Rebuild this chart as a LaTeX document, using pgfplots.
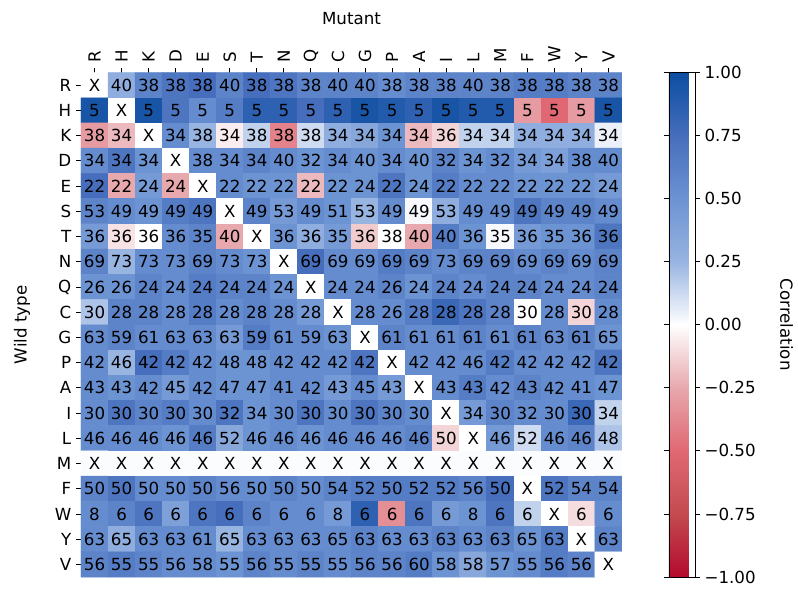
\documentclass[border=0pt]{standalone}
\usepackage{fontspec}
\setmainfont{DejaVu Sans}
\usepackage{pgfplots}
\usepackage{pgfplotstable}
\pgfplotsset{compat=1.18}
\newcommand{\tw}{\fontsize{12pt}{14pt}\selectfont}

\pgfplotstableread{
x y c lab
0 0 0 X
1 0 0.3 40
2 0 0.6 38
3 0 0.7 38
4 0 0.75 38
5 0 0.6 40
6 0 0.75 38
7 0 0.7 38
8 0 0.6 38
9 0 0.6 40
10 0 0.6 40
11 0 0.55 38
12 0 0.6 38
13 0 0.6 38
14 0 0.6 40
15 0 0.6 38
16 0 0.65 38
17 0 0.65 38
18 0 0.6 38
19 0 0.6 38
0 1 0.95 5
1 1 0 X
2 1 0.95 5
3 1 0.7 5
4 1 0.55 5
5 1 0.65 5
6 1 0.85 5
7 1 0.85 5
8 1 0.75 5
9 1 0.85 5
10 1 0.95 5
11 1 0.9 5
12 1 0.85 5
13 1 0.95 5
14 1 0.9 5
15 1 0.9 5
16 1 -0.3 5
17 1 -0.5 5
18 1 -0.3 5
19 1 0.95 5
0 2 -0.3 38
1 2 -0.2 34
2 2 0 X
3 2 0.55 34
4 2 0.25 38
5 2 -0.05 34
6 2 0.15 38
7 2 -0.4 38
8 2 0.12 38
9 2 0.3 34
10 2 0.35 34
11 2 0.5 34
12 2 -0.2 34
13 2 -0.12 36
14 2 0.15 34
15 2 0.15 34
16 2 0.3 34
17 2 0.3 34
18 2 0.3 34
19 2 0.05 34
0 3 0.55 34
1 3 0.7 34
2 3 0.5 34
3 3 0 X
4 3 0.55 38
5 3 0.55 34
6 3 0.6 34
7 3 0.55 40
8 3 0.5 32
9 3 0.55 34
10 3 0.5 40
11 3 0.55 34
12 3 0.5 40
13 3 0.6 32
14 3 0.5 34
15 3 0.55 32
16 3 0.45 34
17 3 0.4 34
18 3 0.55 38
19 3 0.55 40
0 4 0.75 22
1 4 -0.25 22
2 4 0.45 24
3 4 -0.25 24
4 4 0 X
5 4 0.55 22
6 4 0.5 22
7 4 0.5 22
8 4 -0.2 22
9 4 0.5 22
10 4 0.5 24
11 4 0.7 22
12 4 0.5 24
13 4 0.65 22
14 4 0.55 22
15 4 0.55 22
16 4 0.5 22
17 4 0.5 22
18 4 0.5 22
19 4 0.45 24
0 5 0.6 53
1 5 0.55 49
2 5 0.5 49
3 5 0.65 49
4 5 0.7 49
5 5 0 X
6 5 0.6 49
7 5 0.45 53
8 5 0.55 49
9 5 0.5 51
10 5 0.25 53
11 5 0.55 49
12 5 0.02 49
13 5 0.3 53
14 5 0.55 49
15 5 0.55 49
16 5 0.7 49
17 5 0.6 49
18 5 0.6 49
19 5 0.55 49
0 6 0.45 36
1 6 -0.08 36
2 6 0 36
3 6 0.55 36
4 6 0.6 35
5 6 -0.25 40
6 6 0 X
7 6 0.5 36
8 6 0.3 36
9 6 0.45 35
10 6 -0.15 36
11 6 0 38
12 6 -0.25 40
13 6 0.65 40
14 6 0.5 36
15 6 0.02 35
16 6 0.45 36
17 6 0.5 35
18 6 0.5 36
19 6 0.7 36
0 7 0.6 69
1 7 0.25 73
2 7 0.55 73
3 7 0.55 73
4 7 0.6 69
5 7 0.55 73
6 7 0.5 73
7 7 0 X
8 7 0.75 69
9 7 0.55 69
10 7 0.55 69
11 7 0.65 69
12 7 0.6 69
13 7 0.55 73
14 7 0.6 69
15 7 0.6 69
16 7 0.55 69
17 7 0.6 69
18 7 0.55 69
19 7 0.6 69
0 8 0.5 26
1 8 0.5 26
2 8 0.6 24
3 8 0.55 24
4 8 0.65 24
5 8 0.6 24
6 8 0.6 24
7 8 0.5 24
8 8 0 X
9 8 0.55 24
10 8 0.55 24
11 8 0.6 26
12 8 0.5 24
13 8 0.6 24
14 8 0.55 24
15 8 0.6 24
16 8 0.6 24
17 8 0.55 24
18 8 0.55 24
19 8 0.6 24
0 9 0.2 30
1 9 0.6 28
2 9 0.6 28
3 9 0.55 28
4 9 0.65 28
5 9 0.55 28
6 9 0.6 28
7 9 0.55 28
8 9 0.45 28
9 9 0 X
10 9 0.55 28
11 9 0.55 26
12 9 0.65 28
13 9 0.8 28
14 9 0.7 28
15 9 0.6 28
16 9 0 30
17 9 0.55 28
18 9 -0.12 30
19 9 0.55 28
0 10 0.55 63
1 10 0.6 59
2 10 0.55 61
3 10 0.55 63
4 10 0.55 63
5 10 0.45 63
6 10 0.65 59
7 10 0.55 61
8 10 0.55 59
9 10 0.5 63
10 10 0 X
11 10 0.6 61
12 10 0.55 61
13 10 0.55 61
14 10 0.6 61
15 10 0.55 61
16 10 0.6 61
17 10 0.55 63
18 10 0.6 61
19 10 0.5 65
0 11 0.55 42
1 11 0.25 46
2 11 0.75 42
3 11 0.65 42
4 11 0.55 42
5 11 0.5 48
6 11 0.5 48
7 11 0.55 42
8 11 0.55 42
9 11 0.55 42
10 11 0.7 42
11 11 0 X
12 11 0.55 42
13 11 0.55 42
14 11 0.55 46
15 11 0.65 42
16 11 0.55 42
17 11 0.55 42
18 11 0.55 42
19 11 0.7 42
0 12 0.55 43
1 12 0.5 43
2 12 0.55 42
3 12 0.45 45
4 12 0.55 42
5 12 0.5 47
6 12 0.5 47
7 12 0.55 41
8 12 0.55 42
9 12 0.45 43
10 12 0.55 45
11 12 0.45 43
12 12 0 X
13 12 0.55 43
14 12 0.65 43
15 12 0.55 42
16 12 0.6 43
17 12 0.55 42
18 12 0.55 41
19 12 0.5 47
0 13 0.55 30
1 13 0.7 30
2 13 0.6 30
3 13 0.65 30
4 13 0.55 30
5 13 0.7 32
6 13 0.5 34
7 13 0.55 30
8 13 0.7 30
9 13 0.55 30
10 13 0.7 30
11 13 0.6 30
12 13 0.55 30
13 13 0 X
14 13 0.45 34
15 13 0.6 30
16 13 0.55 32
17 13 0.55 30
18 13 0.8 30
19 13 0.15 34
0 14 0.55 46
1 14 0.55 46
2 14 0.55 46
3 14 0.5 46
4 14 0.65 46
5 14 0.35 52
6 14 0.5 46
7 14 0.55 46
8 14 0.5 46
9 14 0.55 46
10 14 0.55 46
11 14 0.55 46
12 14 0.6 46
13 14 -0.12 50
14 14 0 X
15 14 0.45 46
16 14 0.12 52
17 14 0.55 46
18 14 0.6 46
19 14 0.2 48
0 15 0.01 X
1 15 0.01 X
2 15 0.01 X
3 15 0.01 X
4 15 0.01 X
5 15 0.01 X
6 15 0.01 X
7 15 0.01 X
8 15 0.01 X
9 15 0.01 X
10 15 0.01 X
11 15 0.01 X
12 15 0.01 X
13 15 0.01 X
14 15 0.01 X
15 15 0.01 X
16 15 0.01 X
17 15 0.01 X
18 15 0.01 X
19 15 0.01 X
0 16 0.6 50
1 16 0.7 50
2 16 0.55 50
3 16 0.55 50
4 16 0.6 50
5 16 0.55 56
6 16 0.55 50
7 16 0.6 50
8 16 0.55 50
9 16 0.6 54
10 16 0.65 52
11 16 0.65 50
12 16 0.65 52
13 16 0.65 52
14 16 0.6 56
15 16 0.75 50
16 16 0 X
17 16 0.7 52
18 16 0.6 54
19 16 0.6 54
0 17 0.55 8
1 17 0.6 6
2 17 0.7 6
3 17 0.4 6
4 17 0.7 6
5 17 0.75 6
6 17 0.6 6
7 17 0.55 6
8 17 0.55 6
9 17 0.45 8
10 17 0.85 6
11 17 -0.35 6
12 17 0.7 6
13 17 0.45 6
14 17 0.5 8
15 17 0.7 6
16 17 0.15 6
17 17 0 X
18 17 -0.1 6
19 17 0.55 6
0 18 0.55 63
1 18 0.3 65
2 18 0.55 63
3 18 0.55 63
4 18 0.55 61
5 18 0.25 65
6 18 0.55 63
7 18 0.55 63
8 18 0.55 63
9 18 0.55 65
10 18 0.6 63
11 18 0.55 63
12 18 0.55 63
13 18 0.6 63
14 18 0.55 63
15 18 0.6 63
16 18 0.5 65
17 18 0.65 63
18 18 0 X
19 18 0.6 63
0 19 0.6 56
1 19 0.65 55
2 19 0.6 55
3 19 0.55 56
4 19 0.55 58
5 19 0.5 55
6 19 0.6 56
7 19 0.55 55
8 19 0.6 55
9 19 0.55 55
10 19 0.6 56
11 19 0.6 56
12 19 0.65 60
13 19 0.5 58
14 19 0.35 58
15 19 0.5 57
16 19 0.55 55
17 19 0.65 56
18 19 0.6 56
19 19 0 X
}\data

\begin{document}
\begin{tikzpicture}
\begin{axis}[
  at={(0pt,0pt)}, anchor=south west,
  scale only axis, width=389.5pt, height=363.2pt,
  xmin=-0.5, xmax=19.5, ymin=-0.5, ymax=19.5,
  y dir=reverse,
  xtick={0,...,19}, ytick={0,...,19},
  xticklabels={R,H,K,D,E,S,T,N,Q,C,G,P,A,I,L,M,F,W,Y,V},
  yticklabels={R,H,K,D,E,S,T,N,Q,C,G,P,A,I,L,M,F,W,Y,V},
  xticklabel pos=upper, xtick pos=upper, ytick pos=left,
  tick align=outside, major tick length=3.5pt,
  tick style={black, line width=0.6pt},
  xticklabel style={rotate=90, anchor=west, font=\tw},
  yticklabel style={font=\tw},
  xlabel={Mutant}, ylabel={Wild type},
  label style={font=\tw},
  xlabel style={yshift=8.6pt},
  ylabel style={yshift=10.8pt},
  axis line style={draw=none},
  colormap={corr}{rgb255=(180,10,45) rgb255=(195,75,80) rgb255=(224,104,114) rgb255=(231,168,174) rgb255=(255,255,255) rgb255=(152,180,225) rgb255=(108,147,210) rgb255=(70,110,188) rgb255=(12,78,162)},
  point meta min=-1, point meta max=1,
  colorbar,
  colorbar style={
    at={(parent axis.north east)}, anchor=north west, xshift=25.2pt,
    width=18.7pt,
    ytick={-1,-0.75,-0.5,-0.25,0,0.25,0.5,0.75,1},
    yticklabels={−1.00,−0.75,−0.50,−0.25,0.00,0.25,0.50,0.75,1.00},
    yticklabel style={font=\tw},
    tick align=outside, major tick length=3.5pt,
    ylabel={Correlation}, ylabel style={rotate=180, font=\tw, yshift=10.8pt},
  },
]
\addplot[matrix plot*, mesh/cols=20, point meta=explicit] table[x=x, y=y, meta=c] {\data};
\addplot[draw=none, forget plot, point meta=explicit symbolic,
  nodes near coords={\pgfplotspointmeta},
  nodes near coords style={anchor=center, font=\tw, text=black, inner sep=0pt}]
  table[x=x, y=y, meta=lab] {\data};
\end{axis}
\pgfresetboundingbox
\path (-58.32pt,-8.64pt) rectangle (516.24pt,415.44pt);
\end{tikzpicture}
\end{document}
